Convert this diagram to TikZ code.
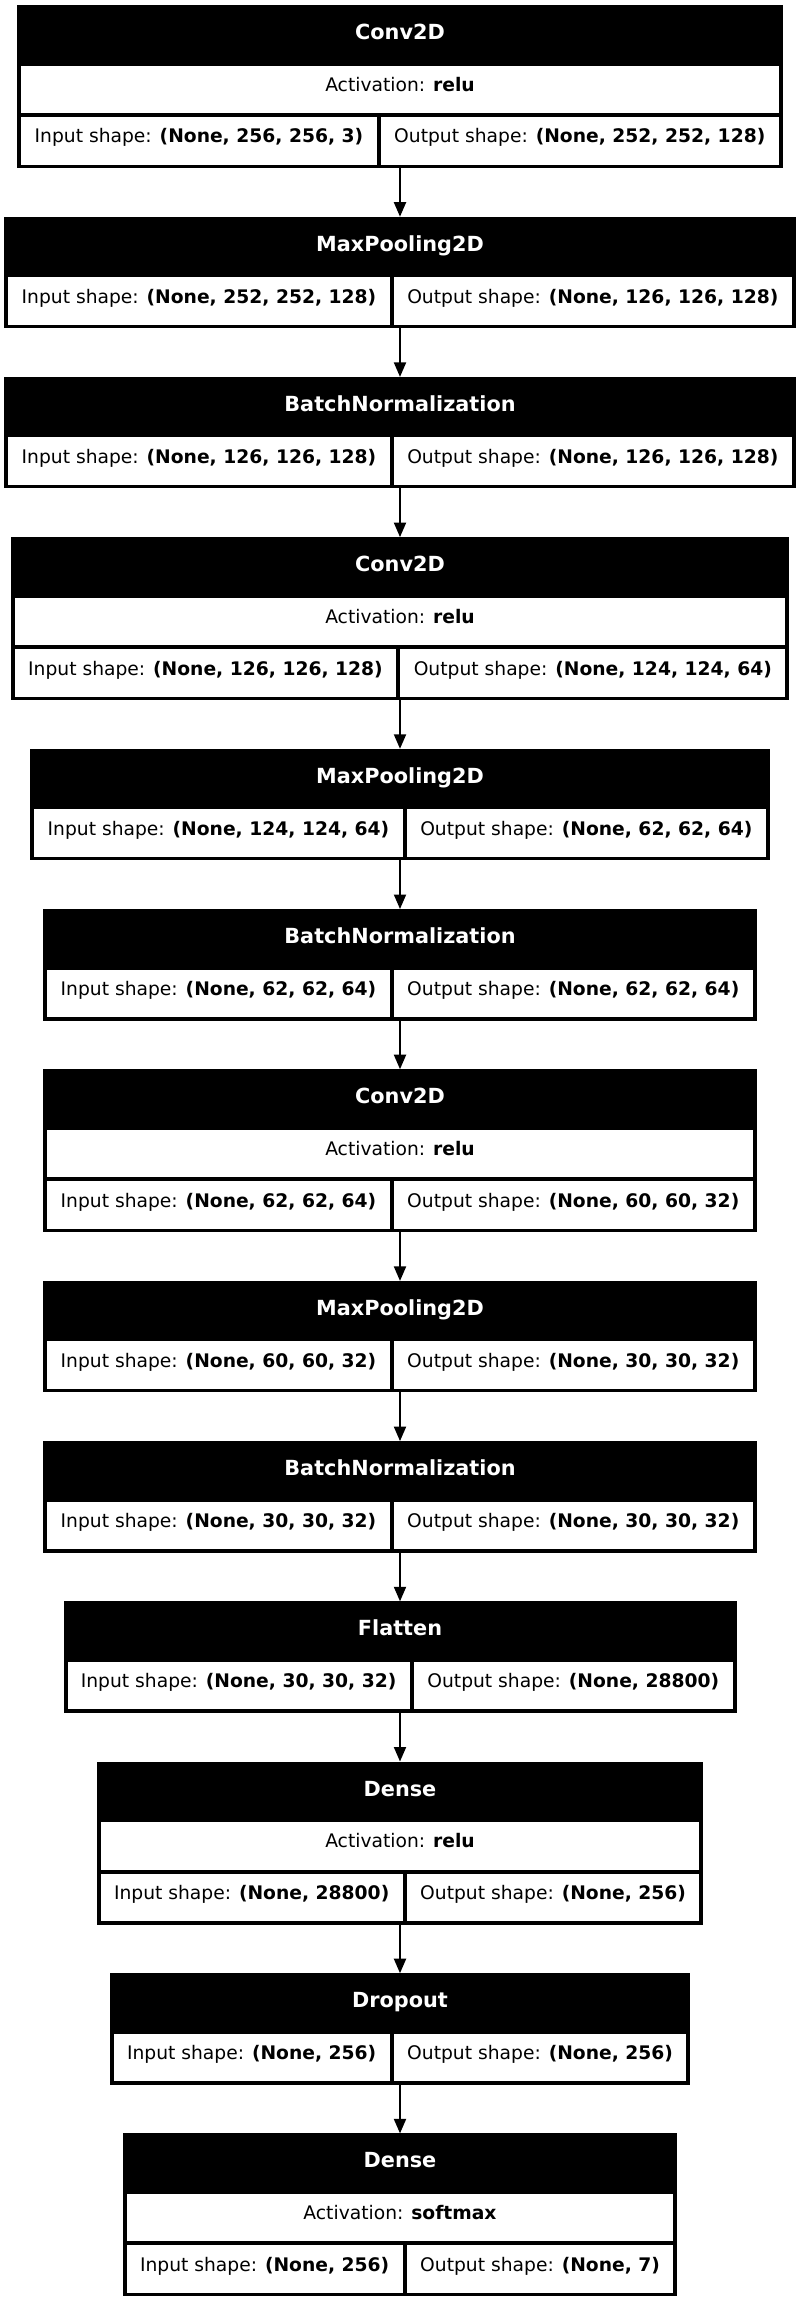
\documentclass[tikz,border=0pt]{standalone}
\usepackage{fontspec}
\setmainfont{DejaVu Sans}
\usetikzlibrary{arrows.meta}
\tikzset{
  lbox/.style={rectangle, fill=black, draw=none, inner sep=0pt, outer sep=0pt},
  cell/.style={rectangle, fill=white, draw=none, inner sep=0pt, outer sep=0pt,
    font=\fontsize{18.7}{22}\selectfont, text=black, text height=0.75em, text depth=0.322em},
  ttl/.style={text=white, font=\bfseries\fontsize{20.8}{24}\selectfont, anchor=base, inner sep=0pt},
  arr/.style={line width=1.9pt, draw=black, -{Triangle[length=14.5pt,width=12pt]}}
}
% #1 id, #2 top, #3 left, #4 end of input cell, #5 title, #6 activation, #7 input, #8 output, #9 rows
\newcommand{\layerbox}[9]{%
  \pgfmathsetmacro{\lyR}{800-#3}%
  \pgfmathsetmacro{\lyH}{#9==3 ? 163 : 111.5}%
  \pgfmathsetmacro{\lyCy}{#2+\lyH/2}%
  \pgfmathsetmacro{\lyW}{\lyR-#3}%
  \node[lbox, minimum width=\lyW pt, minimum height=\lyH pt] (b#1) at (400,\lyCy) {};
  \node[ttl] (t#1) at (400,{#2+34.5}) {#5};
  \pgfmathsetmacro{\lyIOtop}{#2 + (#9==3 ? 112 : 60.5)}%
  \pgfmathsetmacro{\lyIOy}{\lyIOtop+23.75}%
  \pgfmathsetmacro{\lyInW}{#4-#3-4}%
  \pgfmathsetmacro{\lyInX}{(#3+4+#4)/2}%
  \pgfmathsetmacro{\lyOutS}{#4+4.3}%
  \pgfmathsetmacro{\lyOutW}{\lyR-4-\lyOutS}%
  \pgfmathsetmacro{\lyOutX}{(\lyOutS+\lyR-4)/2}%
  \node[cell, minimum width=\lyInW pt, minimum height=47.5pt] (in#1) at (\lyInX,\lyIOy) {Input shape: \textbf{#7}};
  \node[cell, minimum width=\lyOutW pt, minimum height=47.5pt] (out#1) at (\lyOutX,\lyIOy) {Output shape: \textbf{#8}};
  \ifnum#9=3
    \pgfmathsetmacro{\lyAW}{\lyW-8}%
    \node[cell, minimum width=\lyAW pt, minimum height=47.5pt] (act#1) at (400,{#2+84.25}) {Activation: \textbf{#6}};
  \fi
}
\begin{document}
\begin{tikzpicture}[x=1pt,y=-1pt]
\fill[white] (0,0) rectangle (800,2303);
\useasboundingbox (0,0) rectangle (800,2303);
\layerbox{1}{5}{17.35}{376.55}{Conv2D}{relu}{(None, 256, 256, 3)}{(None, 252, 252, 128)}{3}
\layerbox{2}{216.7}{4.3}{389.6}{MaxPooling2D}{}{(None, 252, 252, 128)}{(None, 126, 126, 128)}{2}
\layerbox{3}{376.9}{4.3}{389.6}{BatchNormalization}{}{(None, 126, 126, 128)}{(None, 126, 126, 128)}{2}
\layerbox{4}{537.1}{10.8}{396.1}{Conv2D}{relu}{(None, 126, 126, 128)}{(None, 124, 124, 64)}{3}
\layerbox{5}{748.8}{30.3}{402.6}{MaxPooling2D}{}{(None, 124, 124, 64)}{(None, 62, 62, 64)}{2}
\layerbox{6}{909.0}{43.35}{389.55}{BatchNormalization}{}{(None, 62, 62, 64)}{(None, 62, 62, 64)}{2}
\layerbox{7}{1069.2}{43.35}{389.55}{Conv2D}{relu}{(None, 62, 62, 64)}{(None, 60, 60, 32)}{3}
\layerbox{8}{1280.9}{43.35}{389.55}{MaxPooling2D}{}{(None, 60, 60, 32)}{(None, 30, 30, 32)}{2}
\layerbox{9}{1441.1}{43.35}{389.55}{BatchNormalization}{}{(None, 30, 30, 32)}{(None, 30, 30, 32)}{2}
\layerbox{10}{1601.3}{63.5}{409.7}{Flatten}{}{(None, 30, 30, 32)}{(None, 28800)}{2}
\layerbox{11}{1761.5}{96.7}{402.6}{Dense}{relu}{(None, 28800)}{(None, 256)}{3}
\layerbox{12}{1973.2}{109.7}{389.6}{Dropout}{}{(None, 256)}{(None, 256)}{2}
\layerbox{13}{2133.4}{122.7}{402.6}{Dense}{softmax}{(None, 256)}{(None, 7)}{3}
\draw[arr] (b1.south) -- (b2.north);
\draw[arr] (b2.south) -- (b3.north);
\draw[arr] (b3.south) -- (b4.north);
\draw[arr] (b4.south) -- (b5.north);
\draw[arr] (b5.south) -- (b6.north);
\draw[arr] (b6.south) -- (b7.north);
\draw[arr] (b7.south) -- (b8.north);
\draw[arr] (b8.south) -- (b9.north);
\draw[arr] (b9.south) -- (b10.north);
\draw[arr] (b10.south) -- (b11.north);
\draw[arr] (b11.south) -- (b12.north);
\draw[arr] (b12.south) -- (b13.north);
\end{tikzpicture}
\end{document}
